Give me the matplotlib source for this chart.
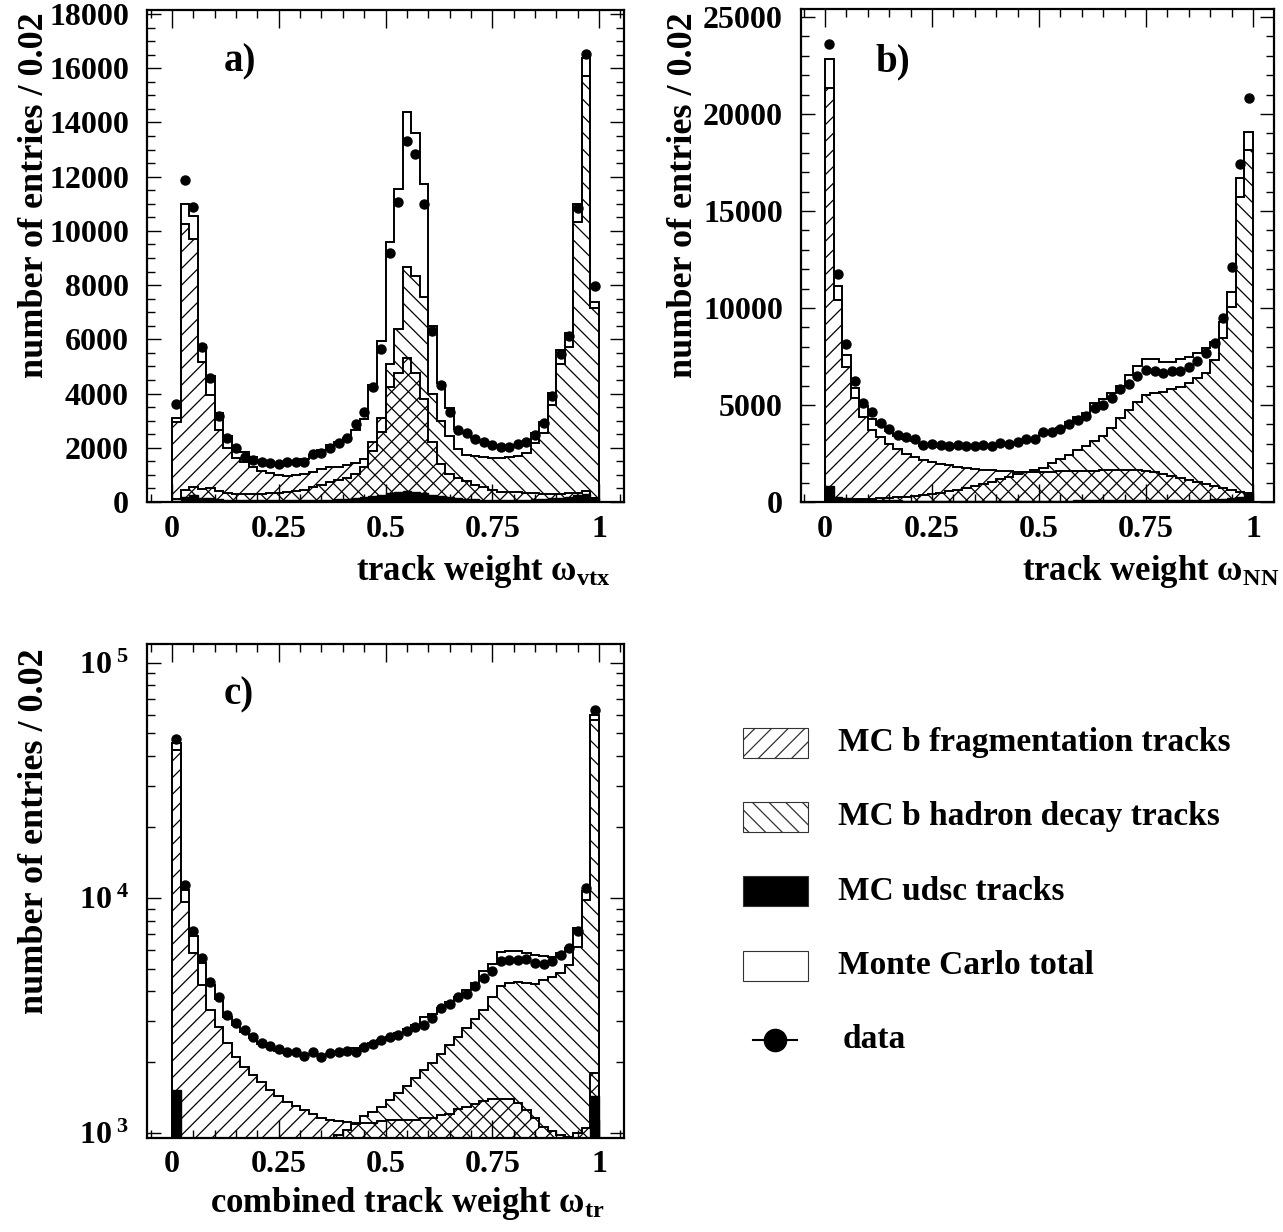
import numpy as np
import matplotlib
matplotlib.use('Agg')
import matplotlib.pyplot as plt
from matplotlib.patches import Rectangle
from matplotlib.lines import Line2D
from matplotlib.ticker import MultipleLocator, LogLocator, FuncFormatter, NullFormatter

plt.rcParams['font.family'] = ['Liberation Serif', 'DejaVu Serif']
plt.rcParams['font.weight'] = 'bold'
plt.rcParams['mathtext.fontset'] = 'custom'
plt.rcParams['mathtext.rm'] = 'Liberation Serif:bold'
plt.rcParams['mathtext.it'] = 'Liberation Serif:bold'
plt.rcParams['mathtext.bf'] = 'Liberation Serif:bold'
plt.rcParams['hatch.linewidth'] = 0.9
plt.rcParams['axes.axisbelow'] = False

# ---------------- data (50 bins of width 0.02) ----------------
bin_edges = np.linspace(0.0, 1.0, 51)

# panel a : omega_vtx
data_a = [3620, 11890, 10870, 5710, 4560, 3190, 2350, 1980, 1670, 1550, 1490, 1430, 1390, 1490, 1490,
          1490, 1770, 1820, 1980, 2170, 2370, 2870, 3330, 4260, 5630, 9180, 11080, 13300, 12830, 11000,
          6290, 4320, 3310, 2660, 2530, 2310, 2230, 2100, 2040, 2040, 2140, 2230, 2470, 2900, 3910,
          5460, 6130, 10840, 16520, 7970]
total_a = [3090, 11000, 10550, 5790, 4650, 3270, 2420, 1990, 1860, 1645, 1530, 1460, 1390, 1395, 1450,
           1575, 1730, 1900, 2090, 2200, 2370, 2650, 3080, 4300, 5950, 9600, 11550, 14370, 13630, 11720,
           6480, 4400, 3480, 2700, 2550, 2350, 2230, 2120, 2060, 2060, 2110, 2210, 2560, 2950, 4010,
           5610, 6220, 11000, 16370, 7390]
frag_a = [2950, 10260, 9690, 5180, 3950, 2640, 1980, 1610, 1490, 1280, 1160, 1080, 1000, 975, 990,
          1050, 1120, 1200, 1280, 1300, 1350, 1450, 1600, 2200, 3090, 4250, 4750, 5300, 4750, 3800,
          2200, 1400, 1050, 880, 760, 620, 560, 440, 370, 370, 360, 350, 340, 300, 280,
          300, 320, 350, 400, 150]
decay_a = [100, 450, 540, 470, 500, 420, 330, 300, 300, 300, 310, 320, 330, 360, 400,
           460, 540, 620, 720, 800, 900, 1050, 1300, 1880, 2600, 5100, 6400, 8680, 8340, 7550,
           4000, 3000, 2450, 1950, 1750, 1700, 1650, 1640, 1640, 1650, 1700, 1800, 2190, 2560, 3580,
           5100, 5730, 10340, 15720, 7150]
udsc_a = [50, 200, 250, 160, 150, 120, 90, 80, 70, 65, 60, 60, 60, 60, 60,
          65, 70, 80, 90, 100, 120, 150, 180, 220, 270, 330, 380, 400, 380, 330,
          270, 220, 180, 150, 120, 100, 90, 80, 80, 80, 80, 90, 100, 110, 130,
          160, 200, 250, 300, 150]

# panel b : omega_NN
data_b = [23600, 11730, 8130, 6240, 5120, 4620, 4060, 3740, 3470, 3330, 3230, 2940, 2990, 2920, 2900,
          2940, 2900, 2890, 2940, 2900, 3060, 2970, 3090, 3250, 3250, 3620, 3590, 3750, 4020, 4230,
          4430, 4830, 5000, 5340, 5810, 6070, 6490, 6800, 6770, 6670, 6770, 6770, 6980, 7280, 7700,
          8180, 9470, 12100, 17400, 20800]
total_b = [22815, 11150, 7576, 5858, 4950, 4290, 3980, 3660, 3390, 3250, 3150, 2880, 2900, 2850, 2830,
           2860, 2830, 2820, 2860, 2840, 2980, 2920, 3020, 3170, 3200, 3550, 3650, 3800, 4140, 4400,
           4570, 5090, 5290, 5600, 5980, 6550, 7000, 7370, 7370, 7233, 7233, 7353, 7490, 7662, 7920,
           8264, 9295, 10840, 16680, 19087]
frag_b = [21320, 10410, 6975, 5343, 4398, 3711, 3367, 2990, 2715, 2474, 2337, 2165, 2062, 1976, 1890,
          1821, 1770, 1718, 1667, 1632, 1598, 1580, 1560, 1550, 1550, 1560, 1570, 1580, 1600, 1610,
          1620, 1620, 1630, 1640, 1640, 1640, 1630, 1600, 1550, 1450, 1350, 1250, 1150, 1050, 950,
          820, 700, 600, 500, 450]
decay_b = [300, 150, 150, 160, 170, 180, 200, 220, 250, 280, 320, 370, 420, 480, 550,
           630, 720, 820, 930, 1050, 1180, 1300, 1430, 1560, 1650, 1735, 1993, 2200, 2423, 2680,
           2904, 3162, 3402, 3831, 4313, 4742, 5172, 5516, 5636, 5688, 5808, 5945, 6117, 6410, 6667,
           7320, 8435, 10050, 15737, 18142]
udsc_b = [800, 250, 200, 150, 120, 100, 90, 80, 80, 70, 70, 70, 60, 60, 60,
          60, 60, 60, 60, 60, 60, 60, 60, 60, 60, 60, 70, 70, 70, 80,
          80, 80, 80, 90, 90, 90, 100, 100, 100, 100, 100, 110, 110, 120, 120,
          150, 150, 200, 250, 450]

# panel c : omega_tr (log scale)
data_c = [47500, 11360, 7260, 5540, 4400, 3780, 3180, 2930, 2740, 2570, 2420, 2350, 2270, 2220, 2210,
          2130, 2220, 2110, 2180, 2210, 2230, 2210, 2330, 2380, 2480, 2550, 2610, 2720, 2830, 2880,
          3080, 3390, 3530, 3780, 3890, 4220, 4550, 4900, 5390, 5440, 5440, 5490, 5300, 5240, 5410,
          5720, 6110, 7260, 11000, 63100]
total_c = [45500, 10800, 6890, 5270, 4250, 3700, 3120, 2880, 2700, 2530, 2390, 2310, 2240, 2190, 2170,
           2140, 2160, 2150, 2170, 2200, 2250, 2290, 2350, 2420, 2490, 2570, 2660, 2760, 2880, 3100,
           3200, 3400, 3600, 3800, 4060, 4350, 4900, 5250, 5910, 5950, 5950, 5850, 5700, 5650, 5600,
           5800, 6100, 7430, 10700, 60000]
frag_c = [42600, 9640, 5850, 4260, 3330, 2830, 2410, 2110, 1910, 1770, 1640, 1530, 1430, 1360, 1300,
          1250, 1210, 1160, 1140, 1120, 1110, 1100, 1100, 1100, 1120, 1130, 1130, 1140, 1140, 1160,
          1160, 1190, 1210, 1260, 1290, 1330, 1370, 1390, 1400, 1390, 1345, 1250, 1160, 1060, 1020,
          980, 965, 1000, 1050, 1800]
decay_c = [700, 700, 500, 450, 400, 380, 370, 380, 400, 430, 470, 520, 580, 640, 700,
           760, 820, 880, 930, 980, 1030, 1090, 1181, 1232, 1294, 1381, 1475, 1585, 1710, 1854,
           1991, 2170, 2367, 2570, 2789, 3047, 3337, 3779, 4221, 4360, 4402, 4335, 4305, 4477, 4625,
           4778, 5188, 6207, 9806, 57000]
udsc_c = [1520, 450, 350, 300, 280, 260, 250, 240, 230, 220, 210, 200, 200, 190, 190,
          180, 180, 180, 180, 170, 170, 170, 160, 160, 160, 160, 150, 150, 150, 150,
          150, 150, 150, 150, 150, 150, 150, 150, 150, 150, 150, 150, 150, 160, 160,
          170, 180, 200, 300, 1440]

legend_labels = ["MC b fragmentation tracks", "MC b hadron decay tracks",
                 "MC udsc tracks", "Monte Carlo total", "data"]

# ---------------- figure ----------------
W, H = 1283, 1232
fig = plt.figure(figsize=(W / 100, H / 100), dpi=100)


def px_axes(l, t, r, b):
    return fig.add_axes([l / W, 1 - b / H, (r - l) / W, (b - t) / H])


centers = 0.5 * (bin_edges[:-1] + bin_edges[1:])
LW = 1.4


def draw(ax, total, frag, decay, udsc, data, base=0.0):
    ax.stairs(total, bin_edges, baseline=base, fill=True, facecolor='white',
              edgecolor='black', lw=LW, zorder=1.0)
    ax.stairs(frag, bin_edges, baseline=base, fill=True, facecolor='none',
              edgecolor='black', hatch='//', lw=LW, zorder=1.1)
    ax.stairs(decay, bin_edges, baseline=base, fill=True, facecolor='none',
              edgecolor='black', hatch='\\\\', lw=LW, zorder=1.2)
    ax.stairs(udsc, bin_edges, baseline=base, fill=True, facecolor='black',
              edgecolor='black', lw=1.0, zorder=1.3)
    ax.plot(centers, data, 'o', color='black', ms=6.5, zorder=3, clip_on=False)


def style(ax, xlim):
    ax.set_xlim(*xlim)
    ax.xaxis.set_major_locator(MultipleLocator(0.25))
    ax.xaxis.set_minor_locator(MultipleLocator(0.05))
    ax.xaxis.set_major_formatter(FuncFormatter(lambda v, p: '%g' % v))
    for s in ax.spines.values():
        s.set_linewidth(1.6)
    ax.tick_params(which='both', direction='in', top=True, right=True, width=1.0,
                   labelsize=23)
    ax.tick_params(axis='x', which='major', length=13, pad=9)
    ax.tick_params(axis='x', which='minor', length=6)
    ax.tick_params(axis='y', which='major', length=10, pad=13)
    ax.tick_params(axis='y', which='minor', length=6)


# panel a
ax_a = px_axes(147, 10, 624, 502)
draw(ax_a, total_a, frag_a, decay_a, udsc_a, data_a)
style(ax_a, (-0.0585, 1.0585))
ax_a.set_ylim(0, 18150)
ax_a.yaxis.set_major_locator(MultipleLocator(2000))
ax_a.yaxis.set_minor_locator(MultipleLocator(500))

# panel b
ax_b = px_axes(801, 9, 1274, 502)
draw(ax_b, total_b, frag_b, decay_b, udsc_b, data_b)
style(ax_b, (-0.056, 1.049))
ax_b.set_ylim(0, 25410)
ax_b.yaxis.set_major_locator(MultipleLocator(5000))
ax_b.yaxis.set_minor_locator(MultipleLocator(1000))

# panel c
ax_c = px_axes(147, 644, 624, 1138)
ax_c.set_yscale('log')
draw(ax_c, total_c, frag_c, decay_c, udsc_c, data_c, base=1.0)
style(ax_c, (-0.0585, 1.0585))
ax_c.set_ylim(952, 120000)
ax_c.yaxis.set_major_locator(LogLocator(base=10, numticks=10))
ax_c.yaxis.set_minor_locator(LogLocator(base=10, subs=np.arange(2, 10), numticks=20))
ax_c.yaxis.set_minor_formatter(NullFormatter())
ax_c.yaxis.set_major_formatter(
    FuncFormatter(lambda v, p: r'$10^{\;%d}$' % int(round(np.log10(v)))))


def ftext(x, y, s, **kw):
    fig.text(x / W, 1 - y / H, s, **kw)


# panel letters
ftext(240, 62, 'a)', fontsize=28, ha='center', va='center')
ftext(893, 62, 'b)', fontsize=28, ha='center', va='center')
ftext(239, 695, 'c)', fontsize=28, ha='center', va='center')

# axis titles
ylab = 'number of entries / 0.02'
ftext(35, 12, ylab, fontsize=26, rotation=90, ha='center', va='top')
ftext(684, 12, ylab, fontsize=26, rotation=90, ha='center', va='top')
ftext(35, 648, ylab, fontsize=26, rotation=90, ha='center', va='top')
ftext(611, 580, r'track weight ω$_{\mathrm{vtx}}$', fontsize=25, ha='right', va='baseline')
ftext(1279, 580, r'track weight ω$_{\mathrm{NN}}$', fontsize=25, ha='right', va='baseline')
ftext(604, 1212, r'combined track weight ω$_{\mathrm{tr}}$', fontsize=25, ha='right',
      va='baseline')

# legend
lax = fig.add_axes([0, 0, 1, 1], zorder=-1)
lax.set_xlim(0, W)
lax.set_ylim(H, 0)
lax.axis('off')
box_y = [743, 817, 891, 966]
styles = [dict(facecolor='white', hatch='//'),
          dict(facecolor='white', hatch='\\\\'),
          dict(facecolor='black', hatch=None),
          dict(facecolor='white', hatch=None)]
for yc, st, lab in zip(box_y, styles, legend_labels[:4]):
    lax.add_patch(Rectangle((743, yc - 15), 65, 30, edgecolor='#333333', lw=0.8, **st))
    lax.text(838, yc, lab, fontsize=24, ha='left', va='center')
lax.add_line(Line2D([753, 797], [1040, 1040], color='black', lw=1.5))
lax.plot([775], [1040], 'o', color='black', ms=16)
lax.text(843, 1040, legend_labels[4], fontsize=24, ha='left', va='center')

fig.savefig('out.png', dpi=100)
